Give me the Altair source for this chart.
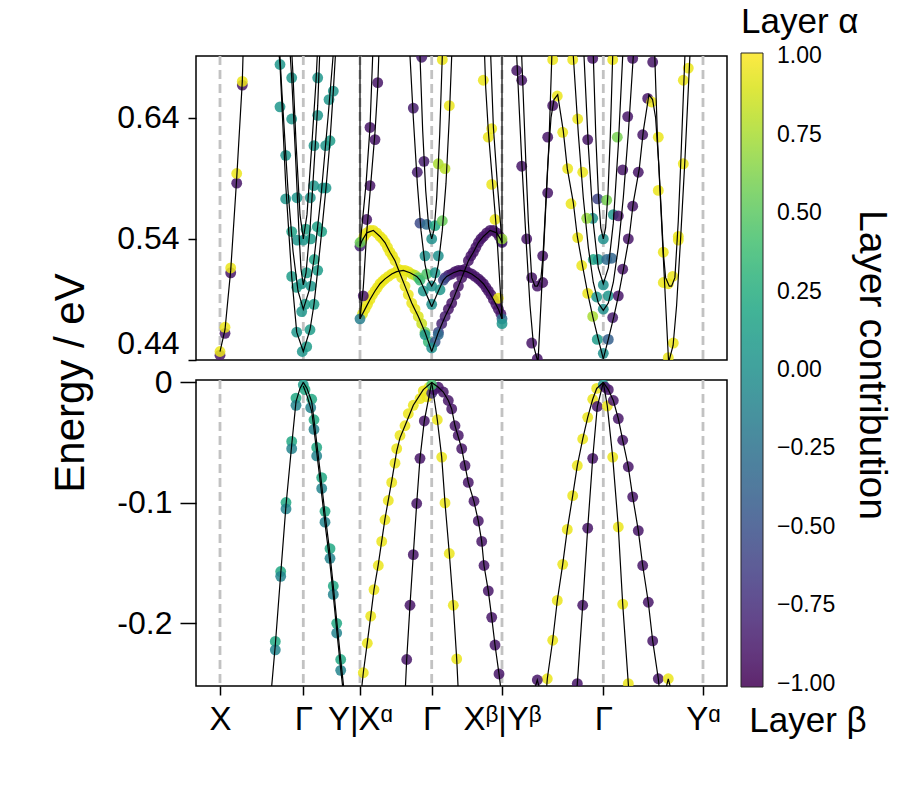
import altair as alt
import pandas as pd

FONT = "Liberation Sans"

# ---------------- axes / ticks ----------------
HSYM_X = [0.24, 1.073, 1.64, 2.357, 3.06, 4.073, 5.07]
HSYM_LABELS = ["X", "Γ", "Y|Xᵅ", "Γ", "Xᵝ|Yᵝ", "Γ", "Yᵅ"]
X_DOMAIN = [0.0, 5.31]
TOP_DOMAIN = [0.44, 0.691]
BOT_DOMAIN = [-0.252, 0.002]
TOP_TICKS = [0.44, 0.54, 0.64]
BOT_TICKS = [-0.2, -0.1, 0.0]
BOT_TICK_LABELS = ["-0.2", "-0.1", "0"]
CBAR_TICKS = [-1, -0.75, -0.5, -0.25, 0, 0.25, 0.5, 0.75, 1]
CBAR_DOMAIN = [-1.01, 1.01]
Y_TITLE = "Energy / eV"
CBAR_TOP = "Layer α"
CBAR_BOTTOM = "Layer β"
CBAR_SIDE = "Layer contribution"

# ---------------- conduction bands (top panel), (k, E) ----------------
T_X1 = [(0.24, 0.447), (0.29, 0.465), (0.347, 0.514), (0.407, 0.590), (0.463, 0.670), (0.48, 0.72)]
T_G1A = [(0.80, 0.72), (0.84, 0.684), (0.897, 0.585), (0.957, 0.509), (1.007, 0.463), (1.073, 0.447),
         (1.14, 0.465), (1.18, 0.486), (1.217, 0.514), (1.257, 0.546), (1.30, 0.582), (1.34, 0.621),
         (1.373, 0.662), (1.40, 0.70)]
T_G1B = [(0.82, 0.72), (0.86, 0.66), (0.92, 0.58), (0.97, 0.53), (1.02, 0.497), (1.073, 0.482),
         (1.13, 0.497), (1.18, 0.523), (1.25, 0.575), (1.32, 0.64), (1.38, 0.70)]
T_G1C = [(0.92, 0.72), (0.957, 0.673), (1.00, 0.60), (1.03, 0.545), (1.05, 0.515), (1.073, 0.502),
         (1.10, 0.512), (1.14, 0.548), (1.18, 0.60), (1.217, 0.65), (1.25, 0.72)]
T_G1D = [(0.94, 0.72), (0.967, 0.68), (1.00, 0.62), (1.04, 0.56), (1.073, 0.540), (1.11, 0.56),
         (1.16, 0.62), (1.20, 0.67), (1.23, 0.72)]
T_VYX = [(1.64, 0.474), (1.64, 0.75)]
T_VXY = [(3.06, 0.474), (3.06, 0.75)]
T_YUP = [(1.64, 0.534), (1.657, 0.538), (1.707, 0.545), (1.773, 0.547), (1.84, 0.542), (1.89, 0.537),
         (1.94, 0.529), (1.99, 0.522), (2.023, 0.515), (2.09, 0.501), (2.157, 0.487), (2.223, 0.476),
         (2.29, 0.463), (2.357, 0.447)]
T_YLOW = [(1.64, 0.474), (1.69, 0.482), (1.74, 0.490), (1.79, 0.497), (1.84, 0.503), (1.89, 0.507),
          (1.957, 0.511), (2.007, 0.513), (2.073, 0.514), (2.14, 0.512), (2.207, 0.509), (2.24, 0.506),
          (2.29, 0.497), (2.357, 0.484)]
T_PLOW = [(2.357, 0.447), (2.424, 0.463), (2.491, 0.476), (2.557, 0.487), (2.624, 0.501), (2.691, 0.515),
          (2.724, 0.522), (2.774, 0.529), (2.824, 0.537), (2.874, 0.542), (2.941, 0.547), (3.007, 0.545),
          (3.044, 0.540), (3.06, 0.537)]
T_PHIGH = [(2.357, 0.484), (2.424, 0.497), (2.474, 0.506), (2.507, 0.509), (2.574, 0.512), (2.641, 0.514),
           (2.707, 0.513), (2.757, 0.511), (2.824, 0.507), (2.874, 0.503), (2.924, 0.497), (2.974, 0.490),
           (3.024, 0.482), (3.06, 0.474)]
T_B1 = [(1.64, 0.534), (1.70, 0.585), (1.74, 0.632), (1.78, 0.72)]
T_B2 = [(1.64, 0.474), (1.673, 0.50), (1.707, 0.545), (1.74, 0.578), (1.79, 0.628), (1.817, 0.665), (1.84, 0.72)]
T_B3 = [(3.06, 0.537), (3.014, 0.585), (2.974, 0.632), (2.934, 0.72)]
T_B4 = [(3.06, 0.474), (3.041, 0.50), (3.007, 0.545), (2.974, 0.578), (2.924, 0.628), (2.897, 0.665), (2.874, 0.72)]
T_V2A = [(2.23, 0.72), (2.24, 0.691), (2.267, 0.629), (2.297, 0.580), (2.327, 0.550), (2.357, 0.540),
         (2.382, 0.548), (2.407, 0.574), (2.437, 0.626), (2.463, 0.691), (2.47, 0.72)]
T_V2B = [(2.13, 0.72), (2.14, 0.691), (2.173, 0.64), (2.213, 0.586), (2.25, 0.547), (2.29, 0.519),
         (2.323, 0.506), (2.357, 0.501), (2.39, 0.506), (2.423, 0.519), (2.463, 0.547), (2.50, 0.586),
         (2.533, 0.64), (2.557, 0.691), (2.567, 0.72)]
T_R1 = [(3.15, 0.76), (3.207, 0.691), (3.257, 0.605), (3.30, 0.54), (3.34, 0.485), (3.375, 0.452),
        (3.42, 0.438), (3.47, 0.52), (3.53, 0.62), (3.57, 0.72)]
T_R2 = [(3.20, 0.76), (3.257, 0.691), (3.30, 0.60), (3.323, 0.555), (3.357, 0.508), (3.39, 0.501),
        (3.413, 0.501), (3.45, 0.508), (3.47, 0.526), (3.517, 0.60), (3.55, 0.640), (3.58, 0.655),
        (3.617, 0.659), (3.673, 0.629), (3.713, 0.598), (3.773, 0.570), (3.813, 0.542), (3.867, 0.517),
        (3.917, 0.495), (3.967, 0.476), (4.02, 0.458), (4.073, 0.441)]
T_S2 = [(4.073, 0.441), (4.126, 0.458), (4.179, 0.476), (4.229, 0.495), (4.279, 0.517), (4.333, 0.542),
        (4.373, 0.570), (4.433, 0.598), (4.473, 0.629), (4.529, 0.659), (4.566, 0.655), (4.596, 0.640),
        (4.629, 0.60), (4.676, 0.526), (4.696, 0.508), (4.733, 0.501), (4.756, 0.501), (4.789, 0.508),
        (4.823, 0.555), (4.846, 0.60), (4.889, 0.691), (4.946, 0.76)]
T_S1 = [(4.576, 0.72), (4.616, 0.62), (4.676, 0.52), (4.726, 0.438), (4.771, 0.452), (4.806, 0.485),
        (4.846, 0.54), (4.889, 0.605), (4.939, 0.691), (4.996, 0.76)]
T_V3A = [(3.96, 0.72), (3.973, 0.691), (3.998, 0.625), (4.023, 0.578), (4.048, 0.549), (4.073, 0.540),
         (4.096, 0.549), (4.12, 0.578), (4.143, 0.625), (4.167, 0.691), (4.18, 0.72)]
T_V3B = [(3.87, 0.72), (3.88, 0.691), (3.923, 0.617), (3.973, 0.553), (4.023, 0.516), (4.073, 0.503),
         (4.123, 0.516), (4.173, 0.553), (4.223, 0.617), (4.267, 0.691), (4.277, 0.72)]
T_V3C = [(3.76, 0.72), (3.773, 0.691), (3.823, 0.627), (3.873, 0.574), (3.923, 0.533), (3.973, 0.504),
         (4.023, 0.487), (4.073, 0.481), (4.123, 0.487), (4.173, 0.504), (4.223, 0.533), (4.273, 0.574),
         (4.323, 0.627), (4.373, 0.691), (4.383, 0.72)]
TOP_BANDS = [T_X1, T_G1A, T_G1B, T_G1C, T_G1D, T_VYX, T_VXY, T_YUP, T_YLOW, T_PLOW, T_PHIGH,
             T_B1, T_B2, T_B3, T_B4, T_V2A, T_V2B, T_R1, T_R2, T_S2, T_S1, T_V3A, T_V3B, T_V3C]

# ---------------- top panel projections (k, E, layer contribution) ----------------
T_DOTS_X = [(0.24, 0.444, -0.9), (0.29, 0.462, -0.9), (0.347, 0.512, -0.9), (0.407, 0.586, -0.9),
            (0.463, 0.667, -0.9), (0.24, 0.447, 0.95), (0.29, 0.467, 0.95), (0.347, 0.516, 0.95),
            (0.407, 0.594, 0.95), (0.463, 0.670, 0.95)]
T_DOTS_G1 = [(0.84, 0.684, 0.05), (0.957, 0.673, 0.05), (1.217, 0.673, 0.05), (1.373, 0.662, 0.05),
             (1.33, 0.655, 0.05), (0.84, 0.649, 0.05), (0.957, 0.639, 0.05), (1.217, 0.642, 0.05),
             (0.897, 0.609, 0.05), (1.18, 0.617, 0.05), (1.297, 0.617, 0.05), (1.34, 0.621, 0.1),
             (0.897, 0.573, 0.05), (1.01, 0.574, 0.05), (1.143, 0.574, 0.05), (1.177, 0.584, 0.05),
             (1.267, 0.582, 0.05), (1.30, 0.582, 0.05), (0.957, 0.546, 0.15), (1.013, 0.539, 0.05),
             (1.073, 0.539, 0.05), (1.10, 0.548, 0.15), (1.147, 0.540, 0.1), (1.213, 0.550, 0.15),
             (1.257, 0.546, 0.15), (1.183, 0.523, 0.15), (0.957, 0.509, 0.1), (1.007, 0.500, 0.1),
             (1.057, 0.503, 0.05), (1.107, 0.512, 0.1), (1.15, 0.501, 0.05), (1.217, 0.514, 0.1),
             (1.09, 0.486, 0.1), (1.057, 0.480, 0.05), (1.18, 0.486, 0.1), (1.007, 0.463, 0.05),
             (1.14, 0.465, 0.1), (1.063, 0.447, 0.05), (1.107, 0.451, 0.1)]
T_DOTS_YUP = [(1.657, 0.538, 0.85), (1.68, 0.542, 0.95), (1.707, 0.545, 0.95), (1.74, 0.547, 0.95),
              (1.773, 0.547, 0.95), (1.807, 0.545, 0.95), (1.84, 0.542, 0.95), (1.865, 0.540, 0.95),
              (1.89, 0.537, 0.95), (1.915, 0.533, 0.95), (1.94, 0.529, 0.95), (1.965, 0.526, 0.95),
              (1.99, 0.522, 0.95), (2.023, 0.515, 0.95), (2.057, 0.508, 0.95), (2.09, 0.501, 0.95),
              (2.123, 0.494, 0.95), (2.157, 0.487, 0.95), (2.19, 0.482, 0.95), (2.223, 0.476, 0.9),
              (2.257, 0.470, 0.85), (2.29, 0.463, 0.6), (2.323, 0.455, 0.35)]
T_DOTS_YLOW = [(1.665, 0.478, 0.9), (1.69, 0.482, 0.95), (1.715, 0.486, 0.95), (1.74, 0.490, 0.95),
               (1.765, 0.494, 0.95), (1.79, 0.497, 0.95), (1.815, 0.500, 0.95), (1.84, 0.503, 0.95),
               (1.865, 0.505, 0.95), (1.89, 0.507, 0.95), (1.923, 0.509, 0.95), (1.957, 0.511, 0.95),
               (1.99, 0.512, 0.95), (2.023, 0.513, 0.95), (2.057, 0.514, 0.95), (2.09, 0.514, 0.95),
               (2.123, 0.513, 0.95), (2.157, 0.511, 0.9), (2.19, 0.510, 0.8), (2.223, 0.508, 0.55),
               (2.24, 0.506, 0.35)]
T_DOTS_PLOW = [(3.057, 0.538, -0.85), (3.034, 0.542, -0.9), (3.007, 0.545, -0.9), (2.974, 0.547, -0.9),
               (2.941, 0.547, -0.9), (2.907, 0.545, -0.9), (2.874, 0.542, -0.9), (2.849, 0.540, -0.9),
               (2.824, 0.537, -0.9), (2.799, 0.533, -0.9), (2.774, 0.529, -0.9), (2.749, 0.526, -0.9),
               (2.724, 0.522, -0.9), (2.691, 0.515, -0.9), (2.657, 0.508, -0.9), (2.624, 0.501, -0.9),
               (2.591, 0.494, -0.9), (2.557, 0.487, -0.9), (2.524, 0.482, -0.9), (2.491, 0.476, -0.85),
               (2.457, 0.470, -0.8), (2.424, 0.463, -0.6), (2.391, 0.455, -0.45)]
T_DOTS_PHIGH = [(3.049, 0.478, -0.85), (3.024, 0.482, -0.9), (2.999, 0.486, -0.9), (2.974, 0.490, -0.9),
                (2.949, 0.494, -0.9), (2.924, 0.497, -0.9), (2.899, 0.500, -0.9), (2.874, 0.503, -0.9),
                (2.849, 0.505, -0.9), (2.824, 0.507, -0.9), (2.791, 0.509, -0.9), (2.757, 0.511, -0.9),
                (2.724, 0.512, -0.9), (2.691, 0.513, -0.9), (2.657, 0.514, -0.9), (2.624, 0.514, -0.9),
                (2.591, 0.513, -0.9), (2.557, 0.511, -0.9), (2.524, 0.510, -0.85), (2.491, 0.508, -0.7),
                (2.474, 0.506, -0.55)]
T_DOTS_EDGE = [(1.64, 0.534, -0.8), (1.64, 0.537, 0.55), (1.64, 0.474, -0.15), (3.06, 0.537, -0.8),
               (3.06, 0.540, 0.7), (3.06, 0.474, -0.3), (3.06, 0.470, 0.05)]
T_DOTS_STEEP = [(1.673, 0.493, -0.9), (1.707, 0.556, -0.9), (1.74, 0.584, -0.9), (1.74, 0.632, -0.9),
                (1.79, 0.622, -0.9), (1.817, 0.669, -0.9), (3.023, 0.491, 0.95), (2.99, 0.556, 0.95),
                (2.957, 0.585, 0.95), (2.923, 0.624, 0.95), (2.957, 0.631, 0.95), (2.873, 0.671, 0.95)]
T_DOTS_G2 = [(2.257, 0.690, -0.85), (2.463, 0.688, 0.95), (2.173, 0.648, -0.85), (2.533, 0.650, 0.95),
             (2.28, 0.604, -0.85), (2.213, 0.595, -0.85), (2.423, 0.602, 0.75), (2.49, 0.598, 0.8),
             (2.24, 0.553, -0.55), (2.307, 0.552, -0.3), (2.39, 0.551, 0.2), (2.463, 0.555, 0.55),
             (2.357, 0.540, 0.0), (2.29, 0.526, 0.0), (2.423, 0.526, 0.0), (2.307, 0.511, 0.45),
             (2.39, 0.512, 0.05), (2.357, 0.501, 0.0), (2.273, 0.497, 0.05), (2.44, 0.498, 0.05),
             (2.357, 0.486, 0.0), (2.29, 0.461, 0.05), (2.423, 0.461, -0.3), (2.357, 0.450, 0.0)]
T_DOTS_R = [(3.207, 0.679, -0.9), (3.257, 0.671, -0.9), (3.257, 0.600, -0.9), (3.307, 0.540, -0.9),
            (3.357, 0.508, -0.9), (3.413, 0.501, -0.9), (3.467, 0.504, -0.9), (3.467, 0.526, -0.9),
            (3.517, 0.578, -0.9), (3.517, 0.624, -0.9), (3.567, 0.650, -0.9), (3.357, 0.454, -0.9),
            (3.413, 0.441, -0.9), (3.613, 0.658, 0.95), (3.667, 0.628, 0.95), (3.717, 0.598, 0.95),
            (3.75, 0.569, 0.95), (3.817, 0.541, 0.95), (3.857, 0.518, 0.95), (3.917, 0.495, 0.95),
            (3.967, 0.476, 0.75)]
T_DOTS_TOPEDGE = [(3.567, 0.688, 0.95), (3.767, 0.688, 0.95), (3.967, 0.689, -0.9), (4.167, 0.688, 0.95),
                  (4.367, 0.689, -0.9), (4.567, 0.686, -0.9)]
T_DOTS_G3 = [(3.817, 0.639, 0.95), (3.867, 0.595, 0.95), (3.917, 0.622, -0.9), (4.213, 0.624, 0.6),
             (4.317, 0.641, -0.9), (4.267, 0.597, -0.9), (4.017, 0.573, -0.6), (4.107, 0.572, 0.6),
             (3.967, 0.557, 0.0), (3.907, 0.557, 0.7), (4.173, 0.560, 0.05), (4.223, 0.559, -0.9),
             (4.073, 0.540, 0.0), (3.973, 0.523, 0.2), (4.023, 0.523, 0.05), (4.107, 0.523, -0.3),
             (4.157, 0.524, -0.35), (4.073, 0.502, 0.0), (4.007, 0.492, 0.05), (4.123, 0.493, 0.05),
             (4.073, 0.482, 0.0), (4.013, 0.457, 0.1), (4.123, 0.457, -0.4), (4.073, 0.4455, 0.0)]
T_DOTS_S = [(4.167, 0.475, -0.85), (4.223, 0.493, -0.9), (4.267, 0.515, -0.9), (4.323, 0.540, -0.9),
            (4.367, 0.567, -0.9), (4.423, 0.595, -0.9), (4.467, 0.626, -0.9), (4.517, 0.656, -0.9),
            (4.557, 0.653, 0.95), (4.623, 0.624, 0.95), (4.623, 0.580, 0.95), (4.673, 0.529, 0.95),
            (4.673, 0.504, 0.95), (4.723, 0.503, 0.95), (4.767, 0.509, 0.95), (4.823, 0.542, 0.95),
            (4.823, 0.539, 0.95), (4.873, 0.602, 0.95), (4.873, 0.671, 0.95), (4.923, 0.681, 0.95),
            (4.773, 0.454, 0.95), (4.723, 0.442, 0.95)]
TOP_DOTS = (T_DOTS_X + T_DOTS_G1 + T_DOTS_YUP + T_DOTS_YLOW + T_DOTS_PLOW + T_DOTS_PHIGH + T_DOTS_EDGE
            + T_DOTS_STEEP + T_DOTS_G2 + T_DOTS_R + T_DOTS_TOPEDGE + T_DOTS_G3 + T_DOTS_S)

# ---------------- valence bands (bottom panel) ----------------
B_G1L = [(1.073, 0.0), (1.04, -0.005), (1.00, -0.016), (0.957, -0.052), (0.90, -0.102), (0.847, -0.159),
         (0.793, -0.218), (0.757, -0.252), (0.745, -0.265)]
B_G1R1 = [(1.073, 0.0), (1.11, -0.005), (1.157, -0.016), (1.18, -0.031), (1.21, -0.052), (1.25, -0.080),
          (1.29, -0.109), (1.335, -0.139), (1.373, -0.169), (1.41, -0.200), (1.447, -0.230), (1.473, -0.25),
          (1.49, -0.265)]
B_G1R2 = [(1.073, -0.003), (1.11, -0.011), (1.157, -0.024), (1.18, -0.039), (1.21, -0.060), (1.25, -0.088),
          (1.29, -0.117), (1.335, -0.147), (1.373, -0.177), (1.41, -0.208), (1.447, -0.238), (1.47, -0.255),
          (1.485, -0.27)]
B_G2OL = [(2.357, 0.0), (2.273, -0.006), (2.173, -0.019), (2.09, -0.036), (2.04, -0.046), (2.007, -0.057),
          (1.957, -0.082), (1.89, -0.113), (1.823, -0.151), (1.78, -0.172), (1.747, -0.194), (1.713, -0.216),
          (1.673, -0.241), (1.655, -0.255)]
B_G2IL = [(2.357, 0.0), (2.283, -0.032), (2.24, -0.063), (2.207, -0.1005), (2.173, -0.143), (2.14, -0.185),
          (2.107, -0.230), (2.09, -0.26)]
B_G2IR = [(2.357, 0.0), (2.413, -0.031), (2.457, -0.062), (2.49, -0.100), (2.533, -0.142), (2.573, -0.185),
          (2.607, -0.2295), (2.625, -0.26)]
B_G2OR = [(2.357, 0.0), (2.423, -0.004), (2.473, -0.008), (2.523, -0.015), (2.557, -0.022), (2.59, -0.036),
          (2.657, -0.055), (2.69, -0.069), (2.723, -0.083), (2.78, -0.099), (2.823, -0.115), (2.857, -0.132),
          (2.88, -0.152), (2.923, -0.173), (2.957, -0.195), (2.99, -0.218), (3.03, -0.242), (3.057, -0.26)]
B_G3OL = [(4.073, 0.0), (4.007, -0.005), (3.967, -0.014), (3.917, -0.029), (3.867, -0.047), (3.813, -0.069),
          (3.767, -0.094), (3.713, -0.122), (3.667, -0.151), (3.613, -0.181), (3.567, -0.214), (3.513, -0.246),
          (3.50, -0.26)]
B_G3IL = [(4.073, 0.0), (4.013, -0.020), (3.967, -0.063), (3.917, -0.121), (3.867, -0.185), (3.813, -0.250),
          (3.80, -0.265)]
B_G3IR = [(4.073, 0.0), (4.113, -0.0196), (4.167, -0.062), (4.223, -0.120), (4.267, -0.184), (4.323, -0.250),
          (4.335, -0.265)]
B_G3OR = [(4.073, 0.0), (4.123, -0.006), (4.173, -0.015), (4.223, -0.030), (4.267, -0.048), (4.323, -0.070),
          (4.367, -0.095), (4.423, -0.123), (4.467, -0.152), (4.523, -0.1825), (4.567, -0.2146), (4.623, -0.246),
          (4.64, -0.26)]
B_H1 = [(3.36, -0.262), (3.413, -0.247), (3.46, -0.262)]
B_H2 = [(4.676, -0.262), (4.723, -0.246), (4.77, -0.262)]
BOT_BANDS = [B_G1L, B_G1R1, B_G1R2, B_G2OL, B_G2IL, B_G2IR, B_G2OR, B_G3OL, B_G3IL, B_G3IR, B_G3OR, B_H1, B_H2]

B_DOTS_G1 = [(1.00, -0.013, 0.2), (1.00, -0.019, -0.1), (0.957, -0.049, 0.2), (0.957, -0.055, -0.1),
             (0.90, -0.0997, 0.2), (0.90, -0.105, -0.1), (0.847, -0.157, 0.2), (0.847, -0.161, -0.1),
             (0.793, -0.215, 0.2), (0.793, -0.222, -0.1), (1.157, -0.014, 0.2), (1.147, -0.021, -0.1),
             (1.18, -0.031, 0.2), (1.18, -0.039, -0.1), (1.207, -0.054, 0.2), (1.207, -0.061, -0.1),
             (1.257, -0.079, 0.2), (1.257, -0.088, -0.1), (1.29, -0.107, 0.2), (1.29, -0.116, -0.1),
             (1.34, -0.138, 0.2), (1.34, -0.146, -0.1), (1.373, -0.169, 0.2), (1.373, -0.176, -0.1),
             (1.407, -0.200, 0.2), (1.407, -0.208, -0.1), (1.447, -0.230, 0.2), (1.447, -0.239, -0.1),
             (1.073, -0.002, 0.1), (1.09, -0.006, 0.2)]
B_DOTS_G2 = [(2.273, -0.007, 0.95), (2.24, -0.0135, 0.95), (2.173, -0.019, 0.95), (2.123, -0.026, 0.95),
             (2.09, -0.036, 0.95), (2.04, -0.044, 0.95), (2.007, -0.055, 0.95), (1.99, -0.067, 0.95),
             (1.957, -0.083, 0.95), (1.923, -0.098, 0.95), (1.89, -0.114, 0.95), (1.857, -0.132, 0.95),
             (1.823, -0.152, 0.95), (1.78, -0.172, 0.95), (1.747, -0.194, 0.95), (1.713, -0.2165, 0.95),
             (1.673, -0.241, 0.95),
             (2.283, -0.032, -0.9), (2.24, -0.063, -0.9), (2.207, -0.1005, -0.9), (2.173, -0.143, -0.9),
             (2.14, -0.185, -0.9), (2.107, -0.230, -0.9),
             (2.413, -0.031, 0.95), (2.457, -0.062, 0.95), (2.49, -0.100, 0.95), (2.533, -0.142, 0.95),
             (2.573, -0.185, 0.95), (2.607, -0.2295, 0.95),
             (2.423, -0.004, -0.9), (2.473, -0.008, -0.9), (2.523, -0.015, -0.9), (2.557, -0.022, -0.9),
             (2.59, -0.036, -0.9), (2.623, -0.044, -0.9), (2.657, -0.055, -0.9), (2.69, -0.069, -0.9),
             (2.723, -0.083, -0.9), (2.78, -0.0986, -0.9), (2.823, -0.115, -0.9), (2.857, -0.132, -0.9),
             (2.88, -0.152, -0.9), (2.923, -0.173, -0.9), (2.957, -0.195, -0.9), (2.99, -0.218, -0.9),
             (3.03, -0.242, -0.9),
             (2.31, -0.012, 0.95), (2.33, -0.004, 0.95), (2.357, -0.009, -0.7), (2.38, -0.006, -0.9),
             (2.357, -0.002, 0.4)]
B_DOTS_G3 = [(4.007, -0.005, 0.95), (3.967, -0.014, 0.95), (3.917, -0.029, 0.95), (3.867, -0.047, 0.95),
             (3.813, -0.069, 0.95), (3.767, -0.094, 0.95), (3.713, -0.122, 0.95), (3.667, -0.151, 0.95),
             (3.613, -0.181, 0.95), (3.567, -0.214, 0.95), (3.513, -0.246, 0.95),
             (4.013, -0.020, -0.9), (3.967, -0.063, -0.9), (3.917, -0.121, -0.9), (3.867, -0.185, -0.9),
             (3.813, -0.250, -0.9),
             (4.113, -0.0196, 0.95), (4.167, -0.062, 0.95), (4.223, -0.120, 0.95), (4.267, -0.184, 0.95),
             (4.323, -0.250, 0.95),
             (4.123, -0.006, -0.9), (4.173, -0.015, -0.9), (4.223, -0.030, -0.9), (4.267, -0.048, -0.9),
             (4.323, -0.070, -0.9), (4.367, -0.095, -0.9), (4.423, -0.123, -0.9), (4.467, -0.152, -0.9),
             (4.523, -0.1825, -0.9), (4.567, -0.2146, -0.9), (4.623, -0.246, -0.9),
             (4.073, -0.002, 0.0), (4.09, -0.004, -0.9), (3.413, -0.247, -0.9), (4.723, -0.246, 0.95)]
BOT_DOTS = B_DOTS_G1 + B_DOTS_G2 + B_DOTS_G3


def bands_frame(bands):
    rows = []
    for i, band in enumerate(bands):
        for j, (k, e) in enumerate(band):
            rows.append({"band": i, "ord": j, "x": k, "e": e})
    return pd.DataFrame(rows)


def dots_frame(dots):
    return pd.DataFrame([{"x": k, "e": e, "c": c} for k, e, c in dots])


def label_expr(values, labels):
    parts = [f"abs(datum.value - ({v})) < 0.005 ? '{lab}'" for v, lab in zip(values, labels)]
    return " : ".join(parts) + " : ''"


xs = alt.Scale(domain=X_DOMAIN, nice=False, zero=False)
cs = alt.Scale(scheme="viridis", domain=CBAR_DOMAIN)

legend = alt.Legend(
    title=CBAR_TOP, orient="none", legendX=545, legendY=-51, direction="vertical",
    gradientLength=634, gradientThickness=22, values=CBAR_TICKS, format=".2f",
    labelFont=FONT, labelFontSize=23, labelColor="black", labelOffset=14, labelBaseline="middle",
    titleFont=FONT, titleFontSize=35, titleFontWeight="normal", titleColor="black",
    titlePadding=13, gradientStrokeColor="black", gradientStrokeWidth=1,
)

top_axis = alt.Axis(values=TOP_TICKS, format=".2f", title=None, domain=False, grid=False,
                    tickSize=8, tickWidth=1.5, tickColor="black", labelFont=FONT, labelFontSize=32,
                    labelColor="black", labelPadding=9, labelFlush=True)
bot_axis = alt.Axis(values=BOT_TICKS, labelExpr=label_expr(BOT_TICKS, BOT_TICK_LABELS), title=None,
                    domain=False, grid=False, tickSize=16, tickWidth=1.5, tickColor="black",
                    labelFont=FONT, labelFontSize=32, labelColor="black", labelPadding=8, labelFlush=False)
x_axis = alt.Axis(values=HSYM_X, labelExpr=label_expr(HSYM_X, HSYM_LABELS), title=None, domain=False,
                  grid=False, tickSize=9, tickWidth=1.5, tickColor="black", labelFont=FONT,
                  labelFontSize=33, labelColor="black", labelPadding=8, labelFlush=False)

hs = pd.DataFrame({"x": HSYM_X})


def panel(bands, dots, yscale, yaxis, xaxis):
    xenc = alt.X("x:Q", scale=xs, axis=xaxis)
    rules = alt.Chart(hs).mark_rule(color="#c2c2c2", strokeWidth=2.8, strokeDash=[9, 5]).encode(x=xenc)
    pts = alt.Chart(dots_frame(dots)).mark_circle(size=118, opacity=0.85, clip=True).encode(
        x=xenc, y=alt.Y("e:Q", scale=yscale, axis=yaxis),
        color=alt.Color("c:Q", scale=cs, legend=legend))
    lns = alt.Chart(bands_frame(bands)).mark_line(color="black", strokeWidth=1.2, clip=True).encode(
        x=xenc, y=alt.Y("e:Q", scale=yscale, axis=yaxis), detail="band:N", order="ord:Q")
    return rules, pts, lns


tr, tp, tl = panel(TOP_BANDS, TOP_DOTS, alt.Scale(domain=TOP_DOMAIN, nice=False, zero=False), top_axis, None)
side = alt.Chart(pd.DataFrame({"t": [CBAR_SIDE]})).mark_text(
    angle=90, font=FONT, fontSize=39, align="center", baseline="middle", color="black").encode(
    x=alt.value(676), y=alt.value(309), text="t:N")
top = alt.layer(tr, tp, tl, side).properties(width=531, height=304)

br, bp, bl = panel(BOT_BANDS, BOT_DOTS, alt.Scale(domain=BOT_DOMAIN, nice=False, zero=False), bot_axis, x_axis)
ytitle = alt.Chart(pd.DataFrame({"t": [Y_TITLE]})).mark_text(
    angle=270, font=FONT, fontSize=42, align="center", baseline="middle", color="black").encode(
    x=alt.value(-125), y=alt.value(3), text="t:N")
lbeta = alt.Chart(pd.DataFrame({"t": [CBAR_BOTTOM]})).mark_text(
    font=FONT, fontSize=35, align="center", baseline="middle", color="black").encode(
    x=alt.value(612), y=alt.value(341), text="t:N")
bottom = alt.layer(br, bp, bl, ytitle, lbeta).properties(width=531, height=306)

chart = alt.vconcat(top, bottom, spacing=20, bounds="flush").resolve_scale(
    x="shared", y="independent", color="shared").resolve_axis(x="independent", y="independent").properties(
    padding={"left": 49, "top": 5, "right": 5, "bottom": 5}).configure(
    background="white", view=alt.ViewConfig(stroke="black", strokeWidth=1.5))

chart.save("out.html", embed_options={"renderer": "svg", "actions": False})
